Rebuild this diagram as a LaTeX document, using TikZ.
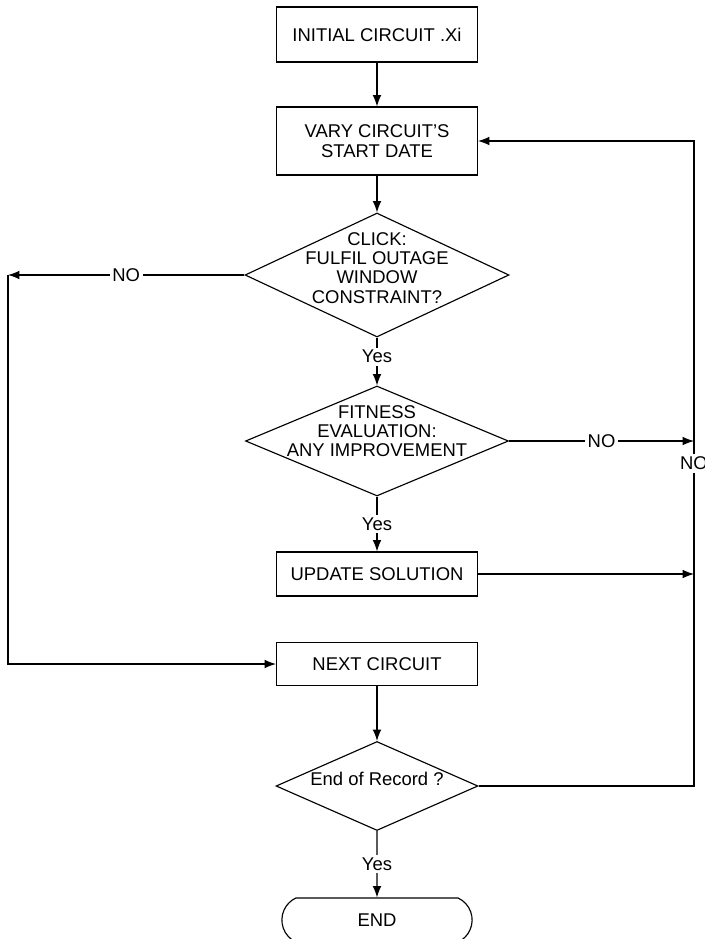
\documentclass[tikz,border=0pt]{standalone}
\usepackage{fontspec}
\setmainfont{Liberation Sans}
\usetikzlibrary{positioning,shapes.geometric,shapes.misc,arrows.meta}

\newcommand{\dtext}[1]{\smash{\makebox[0pt]{\begin{tabular}{@{}c@{}}#1\end{tabular}}}}

\begin{document}
\begin{tikzpicture}[> = {Latex[length=6.5pt,width=5pt]}, x=0.02cm, y=-0.02cm,
    font=\fontsize{10.5}{11}\selectfont, line width=0.65pt]
    \tikzset{
      block/.style={
        draw, rectangle, minimum width=4.02cm, align=center,
      },
      decision/.style={
        draw, diamond, inner sep=0pt,
      },
      stopbox/.style={
        draw, rounded rectangle, rounded rectangle arc length=130,
        minimum width=4.04cm, minimum height=0.88cm,
      },
      lbl/.style={fill=white, inner sep=1.5pt},
    }
    \useasboundingbox (0,0) rectangle (704,939);
    % blocks
    \node (init) [block, minimum height=1.1cm] at (377,34.5) {INITIAL CIRCUIT .Xi};
    \node (vary) [block, minimum height=1.36cm] at (377,141) {VARY CIRCUIT'S\\START DATE};
    \node (click) [decision, minimum width=5.28cm, minimum height=2.48cm] at (377,275)
      {\dtext{CLICK:\\FULFIL OUTAGE\\WINDOW\\CONSTRAINT?}};
    \node (fit) [decision, minimum width=5.26cm, minimum height=2.2cm] at (377,441)
      {\raisebox{3pt}{\dtext{FITNESS\\EVALUATION:\\ANY IMPROVEMENT}}};
    \node (upd) [block, minimum height=0.88cm] at (377,574) {UPDATE SOLUTION};
    \node (next) [block, minimum height=0.86cm] at (377,664) {NEXT CIRCUIT};
    \node (eor) [decision, minimum width=4.04cm, minimum height=1.78cm] at (377,786)
      {\dtext{End of Record ?}};
    \node (end) [stopbox] at (377,920) {END};
    \coordinate (lft) at (8,275);
    \coordinate (rgt) at (694,141);
    % arrows
    \draw[->] (init) -- (vary);
    \draw[->] (vary) -- (click);
    \draw[->] (click.west) -- node[lbl] {NO} (lft);
    \draw[->] (lft) |- (next.west);
    \draw[->] (click) -- node[lbl, pos=0.4] {Yes} (fit);
    \draw[->] (fit.east) -- node[lbl] {NO} (fit.east -| rgt);
    \draw[->] (fit) -- node[lbl] {Yes} (upd);
    \draw[->] (upd.east) -- (upd.east -| rgt);
    \draw[->] (next) -- (eor);
    \draw[->] (eor.east) -| node[lbl, pos=0.75] {NO} (rgt) -- (vary.east);
    \draw[->] (eor) -- node[lbl] {Yes} (end);
\end{tikzpicture}
\end{document}
